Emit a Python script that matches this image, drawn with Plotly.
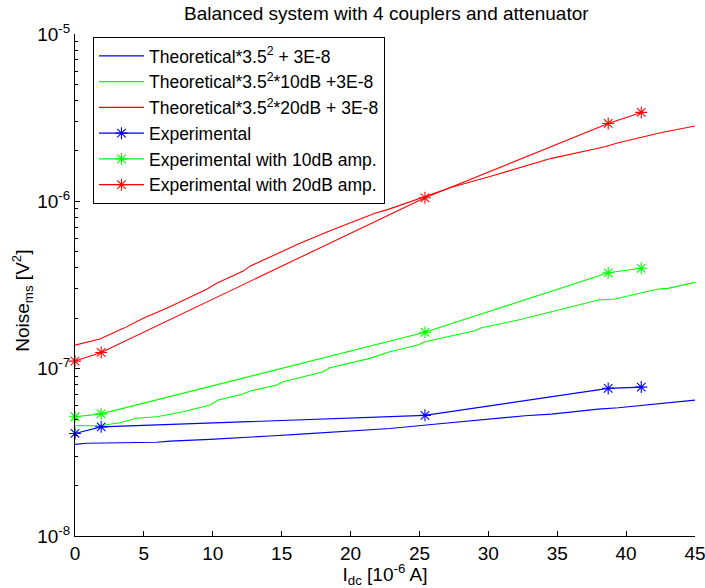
import plotly.graph_objects as go

# ---- Data ----
# Experimental points
exp_x = [0.0, 1.9, 25.4, 38.7, 41.1]
exp_blue = [4.10e-8, 4.49e-8, 5.26e-8, 7.62e-8, 7.76e-8]
exp_green = [5.16e-8, 5.37e-8, 1.65e-7, 3.74e-7, 3.98e-7]
exp_red = [1.11e-7, 1.25e-7, 1.05e-6, 2.92e-6, 3.40e-6]

# Theoretical curves
th_blue_x = [0, 0.85, 5.93, 6.89, 9.80, 11.25, 13.19, 14.15, 16.09, 18.02, 19.47, 21.41,
             22.86, 26.27, 29.75, 32.66, 34.59, 36.05, 37.98, 39.43, 40.88, 42.82, 45.0]
th_blue_y = [3.53e-8, 3.58e-8, 3.63e-8, 3.69e-8, 3.78e-8, 3.83e-8, 3.92e-8, 3.96e-8, 4.05e-8,
             4.14e-8, 4.24e-8, 4.34e-8, 4.39e-8, 4.67e-8, 4.98e-8, 5.23e-8, 5.35e-8, 5.53e-8,
             5.73e-8, 5.84e-8, 6.00e-8, 6.20e-8, 6.49e-8]

th_green_x = [0, 1.81, 3.27, 4.48, 5.93, 7.86, 9.80, 10.40, 12.21, 12.70, 14.64, 15.12, 16.57,
              18.02, 18.51, 20.44, 21.41, 22.86, 24.91, 25.40, 27.34, 29.03, 29.51, 32.17,
              34.59, 37.98, 39.19, 40.88, 42.33, 43.05, 45.0]
th_green_y = [4.56e-8, 4.56e-8, 4.75e-8, 5.05e-8, 5.16e-8, 5.53e-8, 6.06e-8, 6.49e-8, 7.05e-8,
              7.35e-8, 7.98e-8, 8.35e-8, 8.95e-8, 9.59e-8, 1.014e-7, 1.10e-7, 1.152e-7,
              1.262e-7, 1.384e-7, 1.448e-7, 1.567e-7, 1.685e-7, 1.756e-7, 1.952e-7, 2.19e-7,
              2.57e-7, 2.61e-7, 2.82e-7, 2.99e-7, 3.02e-7, 3.28e-7]

th_red_x = [0, 1.81, 3.51, 4.96, 6.65, 8.11, 9.56, 10.28, 12.21, 12.70, 14.15, 16.33, 18.51,
            20.44, 21.77, 22.74, 23.95, 27.34, 30.24, 32.17, 34.59, 38.46, 39.43, 42.58, 45.0]
th_red_y = [1.383e-7, 1.503e-7, 1.741e-7, 2.00e-7, 2.30e-7, 2.63e-7, 2.98e-7, 3.24e-7,
            3.83e-7, 4.10e-7, 4.66e-7, 5.61e-7, 6.67e-7, 7.66e-7, 8.48e-7, 8.95e-7, 9.72e-7,
            1.213e-6, 1.417e-6, 1.574e-6, 1.807e-6, 2.12e-6, 2.24e-6, 2.58e-6, 2.82e-6]

x_ticks = [0, 5, 10, 15, 20, 25, 30, 35, 40, 45]
y_tickvals = [1e-8, 1e-7, 1e-6, 1e-5]
y_ticktext = ["10<sup>-8</sup>", "10<sup>-7</sup>", "10<sup>-6</sup>", "10<sup>-5</sup>"]

BLUE, GREEN, RED = "rgb(0,0,255)", "rgb(0,255,0)", "rgb(255,0,0)"
FONT = "Liberation Sans, Arial, sans-serif"

fig = go.Figure()
lw = 1.1
fig.add_trace(go.Scatter(x=th_blue_x, y=th_blue_y, mode="lines", line=dict(color=BLUE, width=lw),
                         name="Theoretical*3.5<sup>2</sup> + 3E-8"))
fig.add_trace(go.Scatter(x=th_green_x, y=th_green_y, mode="lines", line=dict(color=GREEN, width=lw),
                         name="Theoretical*3.5<sup>2</sup>*10dB +3E-8"))
fig.add_trace(go.Scatter(x=th_red_x, y=th_red_y, mode="lines", line=dict(color=RED, width=lw),
                         name="Theoretical*3.5<sup>2</sup>*20dB + 3E-8"))
for ys, c, nm in [(exp_blue, BLUE, "Experimental"),
                  (exp_green, GREEN, "Experimental with 10dB amp."),
                  (exp_red, RED, "Experimental with 20dB amp.")]:
    fig.add_trace(go.Scatter(x=exp_x, y=ys, mode="lines+markers", cliponaxis=False,
                             line=dict(color=c, width=lw),
                             marker=dict(symbol="asterisk-open", size=10, color=c,
                                         line=dict(color=c, width=1.1)),
                             name=nm))

fig.update_layout(
    width=705, height=588,
    margin=dict(l=75, r=10, t=34, b=52, autoexpand=False),
    paper_bgcolor="white", plot_bgcolor="white",
    font=dict(family=FONT, size=19, color="black"),
    title=dict(text="Balanced system with 4 couplers and attenuator", x=0.548, xanchor="center",
               y=0.978, yanchor="middle", font=dict(size=19, family=FONT, color="black")),
    legend=dict(x=0.029, y=0.994, xanchor="left", yanchor="top",
                bgcolor="white", bordercolor="black", borderwidth=1, itemwidth=45,
                font=dict(size=17.5, family=FONT, color="black"), tracegroupgap=0),
    showlegend=True,
    annotations=[dict(text="Noise<sub>ms</sub> [V<sup>2</sup>]", textangle=-90,
                      xref="paper", yref="paper", x=-0.086, y=0.468,
                      xanchor="center", yanchor="middle", showarrow=False,
                      font=dict(size=19, family=FONT, color="black"))],
)
fig.update_xaxes(range=[0, 45], tickvals=x_ticks, ticks="inside", ticklen=5, tickcolor="black",
                 showline=True, linecolor="black", linewidth=1, showgrid=False, zeroline=False,
                 automargin=False, ticklabeloverflow="allow",
                 title=dict(text="I<sub>dc</sub> [10<sup>-6</sup> A]", font=dict(size=19), standoff=6),
                 tickfont=dict(size=19))
fig.update_yaxes(type="log", range=[-8, -5], tickvals=y_tickvals, ticktext=y_ticktext,
                 ticks="inside", ticklen=5, tickcolor="black", automargin=False,
                 ticklabeloverflow="allow",
                 minor=dict(ticks="inside", ticklen=3, tickcolor="black", dtick="D1", showgrid=False),
                 showline=True, linecolor="black", linewidth=1, showgrid=False, zeroline=False,
                 tickfont=dict(size=19))

fig.write_html("out.html")
